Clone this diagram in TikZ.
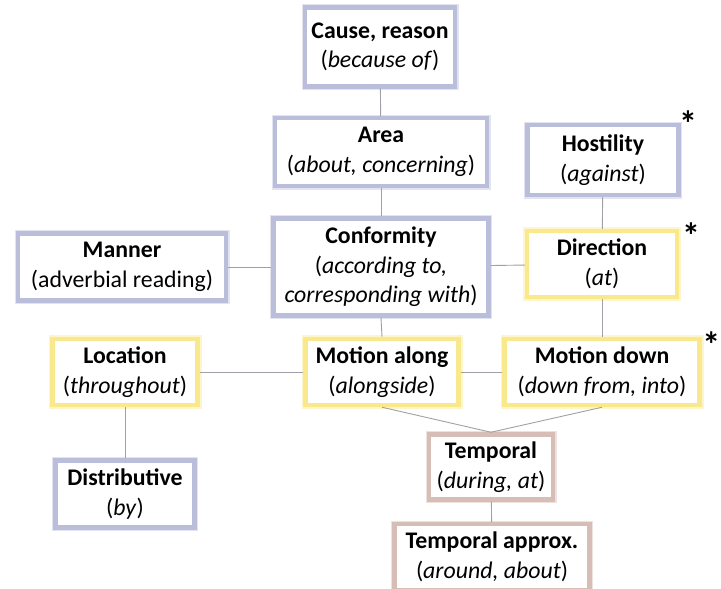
\documentclass[tikz,border=0pt]{standalone}
\usepackage{fontspec}
\setmainfont{Carlito}
\definecolor{bluebd}{RGB}{186,190,218}
\definecolor{blueglow}{RGB}{226,228,240}
\definecolor{yelbd}{RGB}{250,232,140}
\definecolor{yelglow}{RGB}{253,246,205}
\definecolor{brnbd}{RGB}{214,190,182}
\definecolor{brnglow}{RGB}{238,226,222}
\definecolor{linec}{RGB}{160,160,168}
\tikzset{
  box/.style={draw, line width=4.5pt, fill=white, align=center, inner sep=0pt,
    font=\fontsize{23.8}{29.5}\selectfont, text=black},
  bluebox/.style={box, draw=bluebd, preaction={draw=blueglow, line width=7pt}},
  yelbox/.style={box, draw=yelbd, preaction={draw=yelglow, line width=8pt}},
  brnbox/.style={box, draw=brnbd, preaction={draw=brnglow, line width=7pt}},
  conn/.style={draw=linec, line width=0.9pt},
  star/.style={font=\fontsize{36}{36}\selectfont\bfseries, inner sep=0pt}
}
\begin{document}
\begin{tikzpicture}[x=1pt,y=-1pt]
\useasboundingbox (0,0) rectangle (721,589);
\node[bluebox, minimum width=150pt, minimum height=79pt] (cause) at (380,47) {\rule{0pt}{10pt}\textbf{Cause, reason}\\(\textit{because of})};
\node[bluebox, minimum width=212pt, minimum height=68pt] (area) at (381,152) {\textbf{Area}\\(\textit{about, concerning})};
\node[bluebox, minimum width=151pt, minimum height=70pt] (host) at (603,160) {\textbf{Hostility}\\(\textit{against})};
\node[bluebox, minimum width=215pt, minimum height=97pt] (conf) at (381,267) {\textbf{Conformity}\\(\textit{according to,}\\\textit{corresponding with})};
\node[yelbox, minimum width=150pt, minimum height=66pt] (dir) at (602,264) {\textbf{Direction}\\(\textit{at})};
\node[bluebox, minimum width=208pt, minimum height=67pt] (manner) at (122,267) {\textbf{Manner}\\(adverbial reading)};
\node[yelbox, minimum width=145pt, minimum height=66pt] (loc) at (125,372) {\textbf{Location}\\(\textit{throughout})};
\node[yelbox, minimum width=153pt, minimum height=66pt] (along) at (382,372) {\textbf{Motion along}\\(\textit{alongside})};
\node[yelbox, minimum width=195pt, minimum height=66pt] (down) at (602,372) {\textbf{Motion down}\\(\textit{down from, into})};
\node[bluebox, minimum width=139pt, minimum height=67pt] (distr) at (125,494) {\textbf{Distributive}\\(\textit{by})};
\node[brnbox, minimum width=124pt, minimum height=65pt] (temp) at (491,467) {\textbf{Temporal}\\(\textit{during, at})};
\node[brnbox, minimum width=195pt, minimum height=66pt] (tapprox) at (492,557) {\textbf{Temporal approx.}\\(\textit{around, about})};
\node[star] (s1) at (688,124) {*};
\node[star] (s2) at (691,236) {*};
\node[star, anchor=east] (s3) at (720.5,345) {*};
\path[conn] (cause) -- (area);
\path[conn] (area) -- (conf);
\path[conn] (host) -- (dir);
\path[conn] (manner) -- (conf);
\path[conn] (conf) -- (dir);
\path[conn] (conf.south) -- (along.north);
\path[conn] (dir) -- (down);
\path[conn] (loc) -- (along);
\path[conn] (along) -- (down);
\path[conn] (along.south) -- (temp.north);
\path[conn] (down.south) -- (temp.north);
\path[conn] (loc) -- (distr);
\path[conn] (temp) -- (tapprox);
\end{tikzpicture}
\end{document}
